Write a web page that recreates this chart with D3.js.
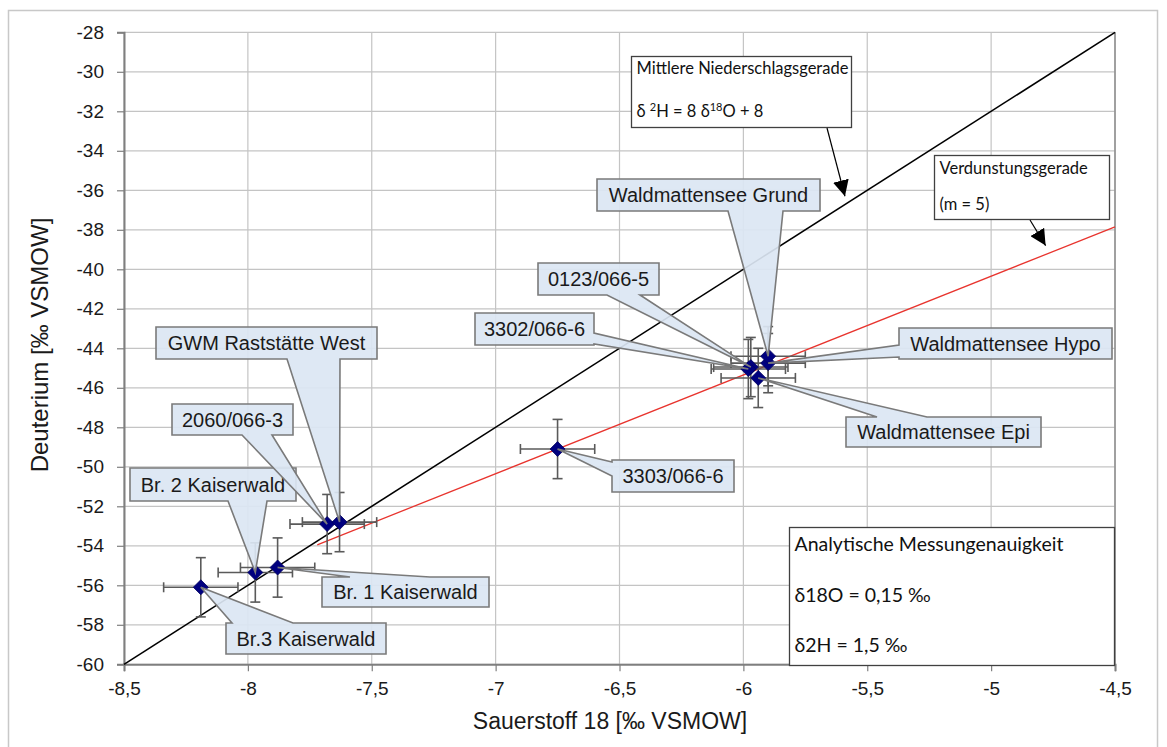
<!DOCTYPE html>
<html>
<head>
<meta charset="utf-8">
<script src="https://cdn.jsdelivr.net/npm/d3@7"></script>
<style>
  body { margin: 0; background: #fff; }
  svg text { font-family: "Liberation Sans", Arial, sans-serif; }
</style>
</head>
<body>
<div id="canvas"></div>
<script>
// DATA
const sampleNames = ["Br.3 Kaiserwald", "Br. 2 Kaiserwald", "Br. 1 Kaiserwald", "2060/066-3",
  "GWM Raststätte West", "3303/066-6", "0123/066-5", "3302/066-6",
  "Waldmattensee Epi", "Waldmattensee Hypo", "Waldmattensee Grund"];
const delta18O = [-8.19, -7.97, -7.88, -7.68, -7.63, -6.75, -5.97, -5.98, -5.94, -5.90, -5.90];
const delta2H  = [-56.1, -55.35, -55.1, -52.9, -52.8, -49.1, -44.95, -45.05, -45.5, -44.75, -44.4];
const err18O = 0.15;
const err2H = 1.5;

const xTicks = [-8.5, -8, -7.5, -7, -6.5, -6, -5.5, -5, -4.5];
const yTicks = d3.range(-28, -61, -2);

const gmwl = [[-8.5, -60], [-4.5, -28]];          // δ2H = 8 δ18O + 8
const evapLine = [[-7.72, -53.95], [-4.5, -37.85]]; // m = 5

// callout boxes (pixel layout)
const callouts = {
  "Waldmattensee Grund": { x0: 597, y0: 179, x1: 820, y1: 211, side: "bottom", b: [728, 783] },
  "0123/066-5":          { x0: 538, y0: 263, x1: 659, y1: 295, side: "bottom", b: [607, 640] },
  "3302/066-6":          { x0: 475, y0: 313, x1: 594, y1: 345, side: "right",  b: [333, 344] },
  "Waldmattensee Hypo":  { x0: 899, y0: 328, x1: 1112, y1: 359, side: "left",  b: [345, 357] },
  "Waldmattensee Epi":   { x0: 846, y0: 417, x1: 1041, y1: 447, side: "top",   b: [877, 927] },
  "3303/066-6":          { x0: 612, y0: 460, x1: 734, y1: 492, side: "left",   b: [462, 476] },
  "GWM Raststätte West": { x0: 156, y0: 327, x1: 377, y1: 359, side: "bottom", b: [287, 340] },
  "2060/066-3":          { x0: 172, y0: 404, x1: 293, y1: 435, side: "bottom", b: [242, 272] },
  "Br. 2 Kaiserwald":    { x0: 130, y0: 468, x1: 296, y1: 501, side: "bottom", b: [228, 267] },
  "Br. 1 Kaiserwald":    { x0: 322, y0: 577, x1: 489, y1: 607, side: "top",    b: [350, 430] },
  "Br.3 Kaiserwald":     { x0: 226, y0: 623, x1: 386, y1: 654, side: "top",    b: [232, 293] }
};

// DIMENSIONS
const width = 1167, height = 747;
const plot = { left: 124, top: 32.3, right: 1115, bottom: 664.3 };

const svg = d3.select("#canvas").append("svg")
  .attr("width", width).attr("height", height);

// outer frame
svg.append("rect").attr("x", 8.5).attr("y", 10.5).attr("width", 1149).attr("height", 740)
  .attr("fill", "none").attr("stroke", "#c8c8c8").attr("stroke-width", 1.5);

// SCALES
const x = d3.scaleLinear().domain([-8.5, -4.5]).range([plot.left, plot.right]);
const y = d3.scaleLinear().domain([-60, -28]).range([plot.bottom, plot.top]);

// GRID
svg.append("g").selectAll("line").data(yTicks).join("line")
  .attr("x1", plot.left).attr("x2", plot.right)
  .attr("y1", d => y(d)).attr("y2", d => y(d))
  .attr("stroke", "#c4c4c4").attr("stroke-width", 1.2);
svg.append("g").selectAll("line").data(xTicks).join("line")
  .attr("y1", plot.top).attr("y2", plot.bottom)
  .attr("x1", d => x(d)).attr("x2", d => x(d))
  .attr("stroke", "#c4c4c4").attr("stroke-width", 1.2);
// right frame of plot
svg.append("line").attr("x1", plot.right).attr("x2", plot.right)
  .attr("y1", plot.top).attr("y2", plot.bottom)
  .attr("stroke", "#8c8c8c").attr("stroke-width", 1.5);

// AXES
const fmt = d => String(d).replace(".", ",");
const yAx = svg.append("g").attr("transform", `translate(${plot.left},0)`)
  .call(d3.axisLeft(y).tickValues(yTicks).tickSize(7).tickPadding(13).tickFormat(fmt));
const xAx = svg.append("g").attr("transform", `translate(0,${plot.bottom})`)
  .call(d3.axisBottom(x).tickValues(xTicks).tickSize(7).tickPadding(10).tickFormat(fmt));
[xAx, yAx].forEach(g => {
  g.select(".domain").attr("stroke", "#7f7f7f").attr("stroke-width", 2);
  g.selectAll(".tick line").attr("stroke", "#7f7f7f").attr("stroke-width", 1.2);
  g.selectAll(".tick text").attr("fill", "#1a1a1a").style("font-size", "19px")
    .style("font-family", "'Liberation Sans', Arial, sans-serif");
});

// AXIS LABELS
svg.append("text").attr("x", 610).attr("y", 729).attr("text-anchor", "middle")
  .style("font-size", "23px").attr("fill", "#1a1a1a").text("Sauerstoff 18 [‰ VSMOW]");
svg.append("text").attr("transform", "translate(48,345) rotate(-90)").attr("text-anchor", "middle")
  .style("font-size", "24px").attr("fill", "#1a1a1a").text("Deuterium [‰ VSMOW]");

// LINES
const line = d3.line().x(d => x(d[0])).y(d => y(d[1]));
svg.append("path").attr("d", line(gmwl)).attr("stroke", "#000").attr("stroke-width", 1.6).attr("fill", "none");
svg.append("path").attr("d", line(evapLine)).attr("stroke", "#e8342e").attr("stroke-width", 1.3).attr("fill", "none");

// ERROR BARS
const pts = sampleNames.map((n, i) => ({ name: n, o: delta18O[i], h: delta2H[i] }));
const eb = svg.append("g").attr("stroke", "#5a5a5a").attr("stroke-width", 1.6);
const cap = 5;
pts.forEach(d => {
  const cx = x(d.o), cy = y(d.h);
  const xl = x(d.o - err18O), xr = x(d.o + err18O);
  const yt = y(d.h + err2H), yb = y(d.h - err2H);
  eb.append("line").attr("x1", xl).attr("x2", xr).attr("y1", cy).attr("y2", cy);
  eb.append("line").attr("x1", xl).attr("x2", xl).attr("y1", cy - cap).attr("y2", cy + cap);
  eb.append("line").attr("x1", xr).attr("x2", xr).attr("y1", cy - cap).attr("y2", cy + cap);
  eb.append("line").attr("x1", cx).attr("x2", cx).attr("y1", yt).attr("y2", yb);
  eb.append("line").attr("x1", cx - cap).attr("x2", cx + cap).attr("y1", yt).attr("y2", yt);
  eb.append("line").attr("x1", cx - cap).attr("x2", cx + cap).attr("y1", yb).attr("y2", yb);
});

// POINTS
svg.append("g").selectAll("path").data(pts).join("path")
  .attr("transform", d => `translate(${x(d.o)},${y(d.h)})`)
  .attr("d", "M0,-7.5L7.5,0L0,7.5L-7.5,0Z")
  .attr("fill", "#00007f").attr("stroke", "#000060").attr("stroke-width", 0.8);

// CALLOUTS
function calloutPath(c, tx, ty) {
  const [b1, b2] = c.b;
  const p = [[c.x0, c.y0]];
  if (c.side === "top") p.push([b1, c.y0], [tx, ty], [b2, c.y0]);
  p.push([c.x1, c.y0]);
  if (c.side === "right") p.push([c.x1, b1], [tx, ty], [c.x1, b2]);
  p.push([c.x1, c.y1]);
  if (c.side === "bottom") p.push([b2, c.y1], [tx, ty], [b1, c.y1]);
  p.push([c.x0, c.y1]);
  if (c.side === "left") p.push([c.x0, b2], [tx, ty], [c.x0, b1]);
  return "M" + p.map(q => q.join(",")).join("L") + "Z";
}
const cg = svg.append("g");
pts.forEach(d => {
  const c = callouts[d.name];
  cg.append("path").attr("d", calloutPath(c, x(d.o), y(d.h)))
    .attr("fill", "#dbe6f3").attr("fill-opacity", 0.92)
    .attr("stroke", "#7a7a7a").attr("stroke-width", 1.6);
  cg.append("text").attr("x", (c.x0 + c.x1) / 2).attr("y", (c.y0 + c.y1) / 2 + 7)
    .attr("text-anchor", "middle").style("font-size", "20px").attr("fill", "#1a1a1a")
    .text(d.name);
});

// NOTE BOXES
function noteBox(x0, y0, w, h, lines) {
  svg.append("rect").attr("x", x0).attr("y", y0).attr("width", w).attr("height", h)
    .attr("fill", "#fff").attr("stroke", "#404040").attr("stroke-width", 1.3);
  lines.forEach(l => {
    svg.append("text").attr("x", x0 + 5).attr("y", l.y)
      .style("font-size", l.size || "16.5px").style("font-family", "Lato, 'Open Sans', sans-serif")
      .attr("fill", "#111").html(l.t);
  });
}
noteBox(631.5, 56.5, 220, 71, [
  { y: 74, t: "Mittlere Niederschlagsgerade" },
  { y: 117, t: "δ <tspan baseline-shift='super' font-size='11px'>2</tspan>H = 8 δ<tspan baseline-shift='super' font-size='11px'>18</tspan>O + 8" }
]);
noteBox(934.5, 155.5, 175, 64, [
  { y: 174, t: "Verdunstungsgerade" },
  { y: 210, t: "(m = 5)" }
]);
noteBox(789.5, 527.5, 325, 138, [
  { y: 551, t: "Analytische Messungenauigkeit", size: "19.5px" },
  { y: 602, t: "δ18O = 0,15 ‰", size: "19.5px" },
  { y: 652, t: "δ2H = 1,5 ‰", size: "19.5px" }
]);

// ARROWS
svg.append("defs").append("marker").attr("id", "ah")
  .attr("viewBox", "0 0 10 10").attr("refX", 10).attr("refY", 5)
  .attr("markerWidth", 16).attr("markerHeight", 16).attr("markerUnits", "userSpaceOnUse")
  .attr("orient", "auto")
  .append("path").attr("d", "M0,0L10,5L0,10Z").attr("fill", "#000");
svg.append("line").attr("x1", 827).attr("y1", 128).attr("x2", x(-5.59)).attr("y2", y(-36.3))
  .attr("stroke", "#000").attr("stroke-width", 1.2).attr("marker-end", "url(#ah)");
svg.append("line").attr("x1", 1030).attr("y1", 220).attr("x2", x(-4.78)).attr("y2", y(-38.8))
  .attr("stroke", "#000").attr("stroke-width", 1.2).attr("marker-end", "url(#ah)");
</script>
</body>
</html>
